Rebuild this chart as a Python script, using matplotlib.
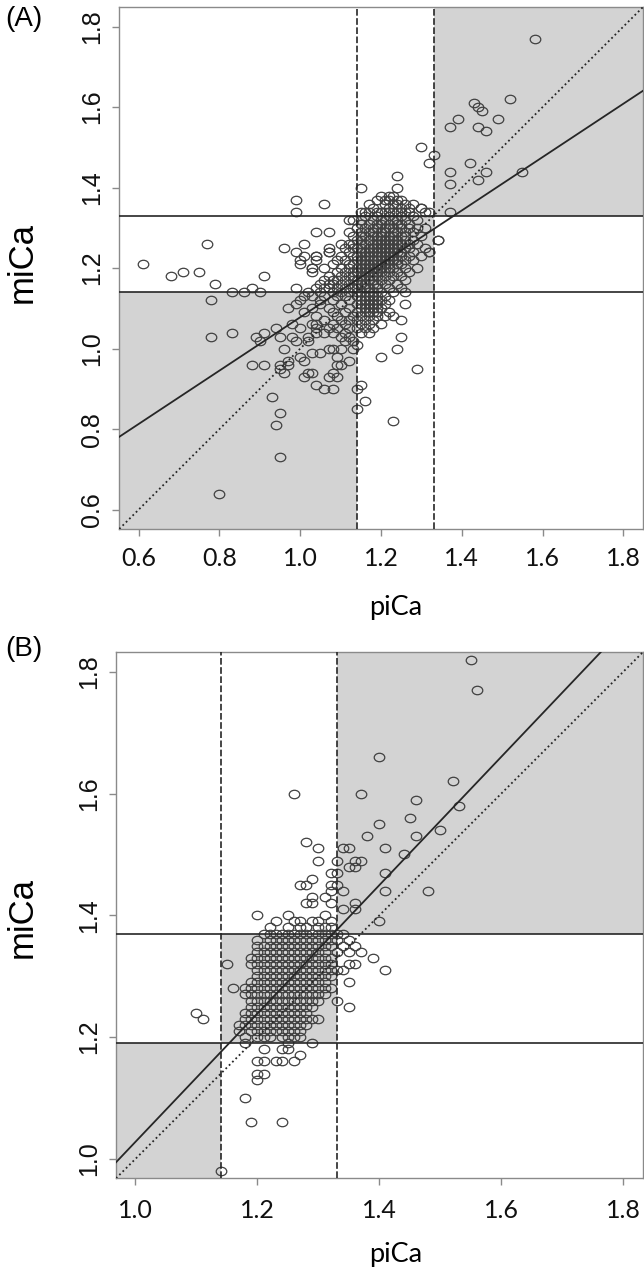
import numpy as np
import matplotlib
matplotlib.use("Agg")
import matplotlib.pyplot as plt
from matplotlib.patches import Rectangle
from matplotlib.path import Path
from matplotlib.transforms import Affine2D

# ---- panel A: each row is (miCa, [piCa values on that row]) ----
a_rows = [
    (1.43, [1.24]),
    (1.40, [1.15, 1.24]),
    (1.38, [1.20, 1.22, 1.23]),
    (1.37, [0.99, 1.19, 1.21, 1.22, 1.24, 1.25]),
    (1.36, [1.06, 1.17, 1.21, 1.23, 1.24, 1.26, 1.28]),
    (1.35, [1.18, 1.22, 1.25, 1.27, 1.30]),
    (1.34, [0.99, 1.15, 1.16, 1.17, 1.19, 1.20, 1.21, 1.22, 1.23, 1.24, 1.25, 1.26, 1.27, 1.31, 1.32, 1.37]),
    (1.33, [1.16, 1.19, 1.22, 1.25, 1.28]),
    (1.32, [1.12, 1.13, 1.15, 1.18, 1.20, 1.21, 1.23, 1.24, 1.26, 1.29]),
    (1.31, [1.15, 1.17, 1.19, 1.20, 1.22, 1.24, 1.25, 1.27]),
    (1.30, [1.14, 1.16, 1.18, 1.19, 1.21, 1.22, 1.23, 1.25, 1.27, 1.29, 1.31]),
    (1.29, [1.04, 1.07, 1.12, 1.15, 1.17, 1.18, 1.20, 1.21, 1.23, 1.24, 1.26, 1.28]),
    (1.28, [1.13, 1.15, 1.16, 1.18, 1.19, 1.20, 1.22, 1.23, 1.25, 1.26, 1.30]),
    (1.27, [1.14, 1.15, 1.17, 1.19, 1.20, 1.21, 1.22, 1.23, 1.24, 1.26, 1.28, 1.34]),
    (1.26, [0.77, 1.01, 1.10, 1.12, 1.13, 1.15, 1.16, 1.18, 1.19, 1.20, 1.21, 1.22, 1.23, 1.24, 1.25, 1.27, 1.29]),
    (1.25, [0.96, 1.07, 1.11, 1.13, 1.14, 1.15, 1.17, 1.18, 1.19, 1.20, 1.21, 1.22, 1.23, 1.24, 1.26, 1.27, 1.31]),
    (1.24, [0.99, 1.07, 1.12, 1.15, 1.16, 1.17, 1.18, 1.19, 1.20, 1.21, 1.22, 1.23, 1.24, 1.25, 1.28, 1.32]),
    (1.23, [1.01, 1.04, 1.10, 1.13, 1.14, 1.15, 1.16, 1.17, 1.19, 1.20, 1.21, 1.22, 1.23, 1.25, 1.27, 1.30]),
    (1.22, [1.00, 1.04, 1.09, 1.11, 1.14, 1.15, 1.16, 1.18, 1.19, 1.20, 1.21, 1.22, 1.23, 1.24, 1.26, 1.28]),
    (1.21, [0.61, 1.00, 1.08, 1.12, 1.13, 1.15, 1.16, 1.17, 1.18, 1.19, 1.20, 1.21, 1.22, 1.24, 1.25]),
    (1.20, [1.03, 1.06, 1.10, 1.12, 1.14, 1.15, 1.16, 1.17, 1.18, 1.19, 1.20, 1.21, 1.22, 1.23, 1.26, 1.29]),
    (1.19, [0.71, 0.75, 1.03, 1.09, 1.11, 1.13, 1.14, 1.15, 1.16, 1.17, 1.18, 1.19, 1.20, 1.22, 1.24, 1.27]),
    (1.18, [0.68, 0.91, 1.07, 1.10, 1.12, 1.13, 1.15, 1.16, 1.17, 1.18, 1.19, 1.21, 1.23, 1.25]),
    (1.17, [1.06, 1.08, 1.09, 1.11, 1.13, 1.14, 1.15, 1.17, 1.18, 1.20, 1.22, 1.26]),
    (1.16, [0.79, 1.05, 1.07, 1.08, 1.10, 1.12, 1.14, 1.15, 1.16, 1.18, 1.19, 1.21, 1.24]),
    (1.15, [0.88, 0.99, 1.04, 1.06, 1.07, 1.09, 1.11, 1.13, 1.14, 1.16, 1.17, 1.19, 1.22, 1.25]),
    (1.14, [0.83, 0.86, 0.90, 1.02, 1.05, 1.08, 1.10, 1.12, 1.14, 1.15, 1.17, 1.18, 1.20, 1.23, 1.26]),
    (1.13, [1.01, 1.03, 1.06, 1.09, 1.11, 1.14, 1.16, 1.17, 1.18, 1.19, 1.21]),
    (1.12, [0.78, 1.00, 1.05, 1.08, 1.12, 1.15, 1.16, 1.17, 1.18, 1.19, 1.20, 1.22]),
    (1.11, [0.99, 1.05, 1.10, 1.14, 1.15, 1.16, 1.17, 1.18, 1.19, 1.21, 1.26]),
    (1.10, [0.97, 1.03, 1.07, 1.12, 1.15, 1.16, 1.17, 1.18, 1.19, 1.20]),
    (1.09, [1.01, 1.08, 1.11, 1.14, 1.16, 1.17, 1.18, 1.19, 1.22]),
    (1.08, [1.04, 1.09, 1.13, 1.15, 1.17, 1.19, 1.21, 1.23]),
    (1.07, [1.06, 1.10, 1.12, 1.14, 1.16, 1.18, 1.25]),
    (1.06, [0.98, 1.03, 1.04, 1.08, 1.11, 1.15, 1.17, 1.20]),
    (1.05, [0.94, 1.00, 1.04, 1.07, 1.09, 1.12, 1.14, 1.16, 1.18]),
    (1.04, [0.83, 0.91, 1.04, 1.06, 1.08, 1.11, 1.15, 1.17]),
    (1.03, [0.78, 0.89, 0.95, 0.98, 1.02, 1.10, 1.12, 1.25]),
    (1.02, [0.90, 0.99, 1.02, 1.11, 1.13]),
    (1.01, [1.14]),
    (1.00, [0.96, 1.07, 1.08, 1.10, 1.13, 1.24]),
    (0.99, [1.03, 1.05]),
    (0.98, [1.00, 1.09, 1.20]),
    (0.97, [0.97, 1.01, 1.12]),
    (0.96, [0.88, 0.91, 0.95, 0.97, 1.09, 1.10]),
    (0.95, [0.95, 1.29]),
    (0.94, [0.96, 1.02, 1.03, 1.08]),
    (0.93, [1.01, 1.07, 1.09]),
    (0.91, [1.04, 1.15]),
    (0.90, [1.06, 1.08, 1.14]),
    (0.88, [0.93]),
    (0.87, [1.16]),
    (0.85, [1.14]),
    (0.84, [0.95]),
    (0.82, [1.23]),
    (0.81, [0.94]),
    (0.73, [0.95]),
    (0.64, [0.80]),
]
# upper-right spread of panel A (piCa, miCa)
a_extra = [(1.58, 1.77), (1.43, 1.61), (1.44, 1.60), (1.45, 1.59), (1.52, 1.62),
           (1.37, 1.55), (1.39, 1.57), (1.44, 1.55), (1.46, 1.54), (1.49, 1.57),
           (1.30, 1.50), (1.33, 1.48), (1.32, 1.46), (1.42, 1.46), (1.37, 1.44),
           (1.37, 1.41), (1.44, 1.42), (1.46, 1.44), (1.55, 1.44), (1.34, 1.27),
           (1.32, 1.24), (1.30, 1.35), (1.07, 1.24), (1.04, 1.23), (1.03, 1.20)]
a_cuts = [1.14, 1.33]
a_fit = [0.415, 0.663]          # intercept, slope
a_lim = [0.552, 1.848]
a_ticks = [0.6, 0.8, 1.0, 1.2, 1.4, 1.6, 1.8]
a_ticklabels = ["0.6", "0.8", "1.0", "1.2", "1.4", "1.6", "1.8"]

# ---- panel B ----
b_rows = [
    (1.37, [1.21, 1.22, 1.23, 1.24, 1.25, 1.26, 1.27, 1.28, 1.29, 1.30, 1.31, 1.32, 1.33, 1.34]),
    (1.36, [1.20, 1.22, 1.23, 1.24, 1.25, 1.26, 1.27, 1.28, 1.29, 1.30, 1.31, 1.32, 1.33, 1.35]),
    (1.35, [1.20, 1.21, 1.22, 1.23, 1.24, 1.25, 1.26, 1.27, 1.28, 1.29, 1.30, 1.31, 1.32, 1.34, 1.36]),
    (1.34, [1.20, 1.21, 1.22, 1.23, 1.24, 1.25, 1.26, 1.27, 1.28, 1.29, 1.30, 1.31, 1.33, 1.35, 1.37]),
    (1.33, [1.19, 1.20, 1.21, 1.22, 1.23, 1.24, 1.25, 1.26, 1.27, 1.28, 1.29, 1.30, 1.31, 1.32, 1.39]),
    (1.32, [1.15, 1.19, 1.20, 1.21, 1.22, 1.23, 1.24, 1.25, 1.26, 1.27, 1.28, 1.29, 1.30, 1.31, 1.32, 1.35, 1.36]),
    (1.31, [1.20, 1.21, 1.22, 1.23, 1.24, 1.25, 1.26, 1.27, 1.28, 1.29, 1.30, 1.31, 1.32, 1.33, 1.34, 1.41]),
    (1.30, [1.20, 1.21, 1.22, 1.23, 1.24, 1.25, 1.26, 1.27, 1.28, 1.29, 1.30, 1.31, 1.32]),
    (1.29, [1.19, 1.20, 1.21, 1.22, 1.23, 1.24, 1.25, 1.26, 1.27, 1.28, 1.29, 1.30, 1.31, 1.35]),
    (1.28, [1.16, 1.18, 1.19, 1.20, 1.21, 1.22, 1.23, 1.24, 1.25, 1.26, 1.27, 1.28, 1.29, 1.30, 1.31, 1.32]),
    (1.27, [1.18, 1.19, 1.20, 1.21, 1.22, 1.23, 1.24, 1.25, 1.26, 1.27, 1.28, 1.29, 1.30, 1.31]),
    (1.26, [1.19, 1.20, 1.21, 1.22, 1.23, 1.24, 1.25, 1.26, 1.27, 1.28, 1.29, 1.30, 1.33]),
    (1.25, [1.19, 1.20, 1.21, 1.22, 1.23, 1.24, 1.25, 1.26, 1.27, 1.28, 1.29, 1.35]),
    (1.24, [1.10, 1.18, 1.19, 1.20, 1.21, 1.22, 1.23, 1.24, 1.25, 1.26, 1.27, 1.28]),
    (1.23, [1.11, 1.18, 1.19, 1.20, 1.21, 1.22, 1.23, 1.24, 1.25, 1.26, 1.27, 1.28, 1.29, 1.30]),
    (1.22, [1.17, 1.18, 1.19, 1.20, 1.21, 1.22, 1.23, 1.24, 1.25, 1.26, 1.27, 1.28]),
    (1.21, [1.17, 1.19, 1.20, 1.21, 1.22, 1.23, 1.24, 1.25, 1.26, 1.27]),
    (1.20, [1.18, 1.20, 1.21, 1.22, 1.24, 1.25, 1.26, 1.27]),
    (1.19, [1.18, 1.25, 1.29]),
    (1.18, [1.21, 1.24, 1.25]),
    (1.17, [1.27]),
    (1.16, [1.20, 1.21, 1.23, 1.24, 1.26]),
    (1.14, [1.20, 1.21]),
    (1.13, [1.20]),
    (1.10, [1.18]),
    (1.06, [1.19, 1.24]),
    (0.98, [1.14]),
]
b_extra = [(1.22, 1.38), (1.25, 1.38), (1.27, 1.38), (1.28, 1.38), (1.30, 1.38), (1.31, 1.38), (1.32, 1.38),
           (1.23, 1.39), (1.26, 1.39), (1.27, 1.39), (1.29, 1.39), (1.30, 1.39), (1.32, 1.39), (1.40, 1.39),
           (1.20, 1.40), (1.25, 1.40), (1.31, 1.40), (1.34, 1.41), (1.36, 1.41),
           (1.28, 1.42), (1.29, 1.42), (1.32, 1.42), (1.36, 1.42), (1.29, 1.43), (1.31, 1.43),
           (1.32, 1.44), (1.34, 1.44), (1.41, 1.44), (1.48, 1.44),
           (1.27, 1.45), (1.28, 1.45), (1.32, 1.45), (1.33, 1.45), (1.29, 1.46),
           (1.32, 1.47), (1.33, 1.47), (1.41, 1.47), (1.35, 1.48), (1.36, 1.48),
           (1.30, 1.49), (1.33, 1.49), (1.36, 1.49), (1.37, 1.49), (1.44, 1.50),
           (1.30, 1.51), (1.34, 1.51), (1.35, 1.51), (1.41, 1.51), (1.28, 1.52),
           (1.38, 1.53), (1.46, 1.53), (1.50, 1.54), (1.40, 1.55), (1.45, 1.56),
           (1.53, 1.58), (1.46, 1.59), (1.26, 1.60), (1.37, 1.60), (1.52, 1.62),
           (1.40, 1.66), (1.56, 1.77), (1.55, 1.82)]
b_xcuts = [1.14, 1.33]
b_ycuts = [1.19, 1.37]
b_fit = [-0.026, 1.054]
b_lim = [0.968, 1.832]
b_ticks = [1.0, 1.2, 1.4, 1.6, 1.8]
b_ticklabels = ["1.0", "1.2", "1.4", "1.6", "1.8"]

SHADE = "#d3d3d3"
PTS = "#404040"
LINE = "#262626"
FRAME = "#8a8a8a"

# the source figure is stretched sideways, so the circles are slightly wide
ring = Path.unit_circle().transformed(Affine2D().scale(1.25, 1.0))


def draw_panel(ax, rows, extra, xcuts, ycuts, fit, lim, ticks, ticklabels, xpad):
    lo, hi = lim
    ax.set_xlim(lo, hi)
    ax.set_ylim(lo, hi)

    ax.add_patch(Rectangle((lo, lo), xcuts[0] - lo, ycuts[0] - lo, fc=SHADE, ec="none", zorder=0))
    ax.add_patch(Rectangle((xcuts[0], ycuts[0]), xcuts[1] - xcuts[0], ycuts[1] - ycuts[0],
                           fc=SHADE, ec="none", zorder=0))
    ax.add_patch(Rectangle((xcuts[1], ycuts[1]), hi - xcuts[1], hi - ycuts[1], fc=SHADE, ec="none", zorder=0))

    xs = [x for y, row in rows for x in row] + [p[0] for p in extra]
    ys = [y for y, row in rows for x in row] + [p[1] for p in extra]
    ax.plot(xs, ys, ls="none", marker=ring, ms=7.6, mfc="none", mec=PTS, mew=0.9, zorder=2)

    for c in ycuts:
        ax.axhline(c, color=LINE, lw=1.2, zorder=3)
    for c in xcuts:
        ax.axvline(c, color=LINE, lw=1.2, ls=(0, (4.0, 1.5)), zorder=3)
    ax.axline((0, 0), slope=1, color=LINE, lw=1.3, ls=(0, (1, 1.6)), zorder=3)
    ax.axline((0, fit[0]), slope=fit[1], color=LINE, lw=1.3, zorder=3)

    ax.set_xticks(ticks)
    ax.set_xticklabels(ticklabels, fontfamily="Lato", fontsize=18)
    ax.set_yticks(ticks)
    ax.set_yticklabels(ticklabels, fontfamily="Liberation Sans", fontsize=18,
                       rotation=90, va="center")
    ax.tick_params(axis="x", length=5, width=1, color=FRAME, pad=8, labelcolor="#111111")
    ax.tick_params(axis="y", length=5, width=1, color=FRAME, pad=6, labelcolor="#111111")
    ax.tick_params(axis="x", pad=xpad)
    for s in ax.spines.values():
        s.set_color(FRAME)
        s.set_linewidth(1.0)


fig = plt.figure(figsize=(6.44, 12.74), dpi=100)
ax_a = fig.add_axes([0.1852, 0.5848, 0.8129, 0.4095])
ax_b = fig.add_axes([0.1801, 0.0751, 0.8180, 0.4129])

draw_panel(ax_a, a_rows, a_extra, a_cuts, a_cuts, a_fit, a_lim, a_ticks, a_ticklabels, 8)
draw_panel(ax_b, b_rows, b_extra, b_xcuts, b_ycuts, b_fit, b_lim, b_ticks, b_ticklabels, 10)

fig.text(0.008, 0.995, "(A)", fontfamily="Liberation Sans", fontsize=20, va="top", ha="left")
fig.text(0.008, 0.5008, "(B)", fontfamily="Liberation Sans", fontsize=20, va="top", ha="left")
fig.text(0.034, 0.794, "miCa", fontfamily="Liberation Sans", fontsize=25, rotation=90,
         ha="center", va="center")
fig.text(0.034, 0.280, "miCa", fontfamily="Liberation Sans", fontsize=25, rotation=90,
         ha="center", va="center")
fig.text(0.614, 0.5173, "piCa", fontfamily="Lato", fontsize=19.5, ha="center", va="baseline")
fig.text(0.614, 0.0094, "piCa", fontfamily="Lato", fontsize=19.5, ha="center", va="baseline")

fig.savefig("out.png", dpi=100)
